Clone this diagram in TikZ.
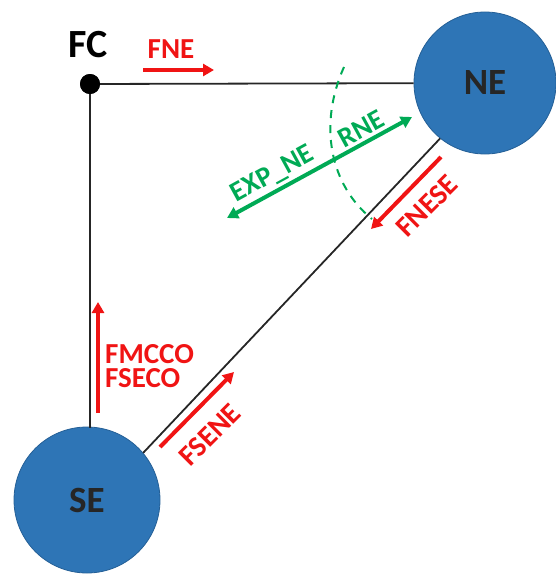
\documentclass[tikz,border=0pt]{standalone}
\usepackage{fontspec}
\setmainfont{Carlito}
\usetikzlibrary{arrows.meta}
\definecolor{hubblue}{RGB}{46,117,182}
\definecolor{hubedge}{RGB}{36,95,150}
\definecolor{flowred}{RGB}{240,20,20}
\definecolor{flowgreen}{RGB}{0,170,85}
\tikzset{
  hub/.style={circle, fill=hubblue, draw=hubedge, line width=0.8pt, inner sep=0pt, font=\bfseries\fontsize{37}{40}\selectfont, text=black!85},
  link/.style={draw=black!85, line width=1.8pt},
  redflow/.style={draw=flowred, line width=4pt, -{Triangle[length=11pt,width=12pt]}},
  greenflow/.style={draw=flowgreen, line width=4pt, {Triangle[length=11pt,width=12pt]}-{Triangle[length=11pt,width=12pt]}},
  redlbl/.style={text=flowred, font=\bfseries\fontsize{29}{24}\selectfont, inner sep=1pt},
  greenlbl/.style={text=flowgreen, font=\bfseries\fontsize{28}{30}\selectfont, inner sep=0pt}
}
\begin{document}
\begin{tikzpicture}[x=1pt,y=-1pt]
\useasboundingbox (0,0) rectangle (556,586);
% hubs
\node[hub, minimum size=142pt] (NE) at (485,83) {NE};
\node[hub, minimum size=146pt] (SE) at (87,500) {SE};
\node[circle, fill=black, minimum size=20pt, inner sep=0pt] (FC) at (90,84) {};
\node[font=\bfseries\fontsize{40}{44}\selectfont] (FClbl) at (88,45) {FC};
% links
\coordinate (FCdown) at (90,428);
\draw[link] (FC.center) -- (NE);
\draw[link] (FC.center) -- (FCdown);
\draw[link] (SE.40) -- (NE.231);
\fill (FC) circle (10pt);
% FNE
\coordinate (fneA) at (143,70);
\coordinate (fneB) at (214,70);
\draw[redflow] (fneA) -- (fneB);
\node[redlbl] (fnel) at (171,49) {FNE};
% FMCCO / FSECO
\coordinate (fmA) at (98,413);
\coordinate (fmB) at (98,302);
\draw[redflow] (fmA) -- (fmB);
\node[redlbl, anchor=west, align=left] (fml) at (104,366) {FMCCO\\FSECO};
% FSENE
\coordinate (fsA) at (160,447);
\coordinate (fsB) at (234,372);
\draw[redflow] (fsA) -- (fsB);
\node[redlbl, rotate=45] (fsl) at (210,435) {FSENE};
% FNESE
\coordinate (fnA) at (441,157);
\coordinate (fnB) at (371,229);
\draw[redflow] (fnA) -- (fnB);
\node[redlbl, rotate=45] (fnl) at (427,206) {FNESE};
% green exchange
\coordinate (gA) at (227,218);
\coordinate (gB) at (412,117);
\draw[greenflow] (gA) -- (gB)
  node[greenlbl, pos=0.29, above=3pt, sloped] (expl) {EXP\_NE}
  node[greenlbl, pos=0.76, above=3pt, sloped] (rnel) {RNE};
% dashed boundary
\coordinate (dA) at (344,67);
\coordinate (dB) at (372,219);
\draw[flowgreen, line width=2pt, dash pattern=on 8pt off 7pt] (dA) .. controls (318,125) and (330,185) .. (dB);
\end{tikzpicture}
\end{document}
